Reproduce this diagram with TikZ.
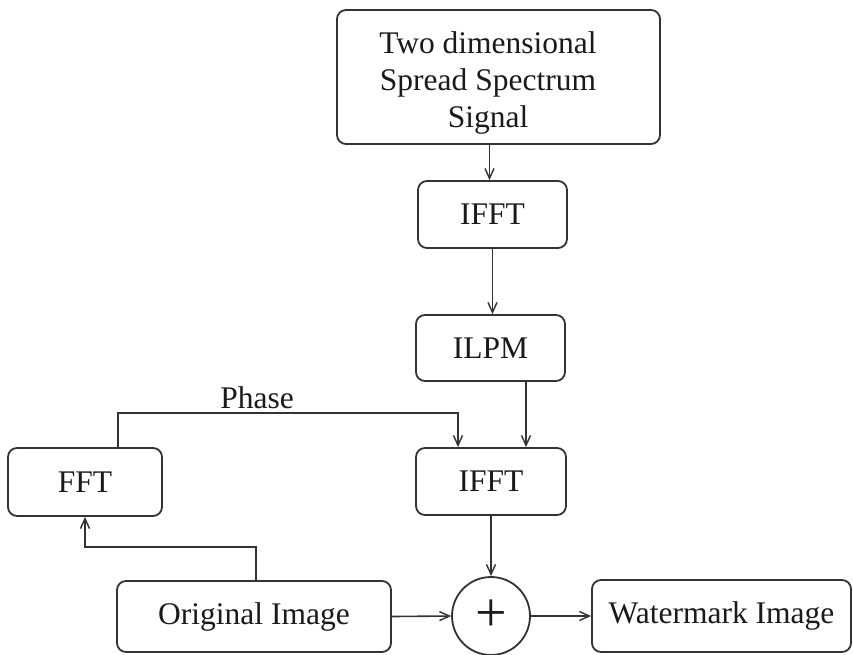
\documentclass[tikz,border=0pt]{standalone}
\usepackage{fontspec}
\setmainfont{Liberation Serif}
\usetikzlibrary{arrows.meta}
\definecolor{linec}{HTML}{333333}
\definecolor{txtc}{HTML}{1A1A1A}
\begin{document}
\begin{tikzpicture}[x=1pt,y=-1pt,
  lbl/.style={text=txtc, font=\fontsize{31.5}{37}\selectfont, inner sep=0pt},
  blk/.style={lbl, draw=linec, line width=1.8pt, rounded corners=9pt},
  conn/.style={draw=linec, line width=1.6pt,
    -{Straight Barb[length=10pt,width=9pt,line width=1.4pt]}}]
\useasboundingbox[fill=white] (0,0) rectangle (853,654);

% processing blocks
\node[blk, minimum width=323pt, minimum height=134pt] (src) at (498.5,77) {};
\node[lbl, align=center] (srctext) at (488,83)
  {Two dimensional\\Spread Spectrum\\Signal};
\node[blk, minimum width=149pt, minimum height=67pt] (ifftA) at (492.5,214.5) {IFFT};
\node[blk, minimum width=149pt, minimum height=66pt] (ilpm) at (490.5,348) {ILPM};
\node[blk, minimum width=150pt, minimum height=67pt] (ifftB) at (491,481.5) {IFFT};
\node[blk, minimum width=154pt, minimum height=68pt] (fft) at (85,482) {FFT};
\node[blk, minimum width=274pt, minimum height=71pt] (orig) at (254,616.5) {Original Image};
\node[blk, minimum width=259pt, minimum height=72pt] (wm) at (721.5,616) {Watermark Image};

% summing junction
\node[draw=linec, line width=1.8pt, circle, minimum size=78pt, inner sep=0pt,
      text=txtc, font=\fontsize{56}{56}\selectfont] (sum) at (491,616) {+};

% signal path
\draw[conn] ([xshift=-3pt]ifftA.north |- src.south) -- ([xshift=-3pt]ifftA.north);
\draw[conn] (ifftA.south) -- (ifftA.south |- ilpm.north);
\draw[conn] ([xshift=35.5pt]ilpm.south) -- ([xshift=35.5pt]ilpm.south |- ifftB.north);
\draw[conn] ([xshift=33pt]fft.north) -- ++(0,-34) -| ([xshift=-33pt]ifftB.north);
\node[lbl, anchor=base] (phase) at (257,408) {Phase};
\draw[conn] ([xshift=2pt]orig.north) -- ++(0,-33) -| (fft.south);
\draw[conn] (ifftB.south) -- (sum.north);
\draw[conn] (orig.east) -- (sum.west);
\draw[conn] (sum.east) -- (wm.west);
\end{tikzpicture}
\end{document}
